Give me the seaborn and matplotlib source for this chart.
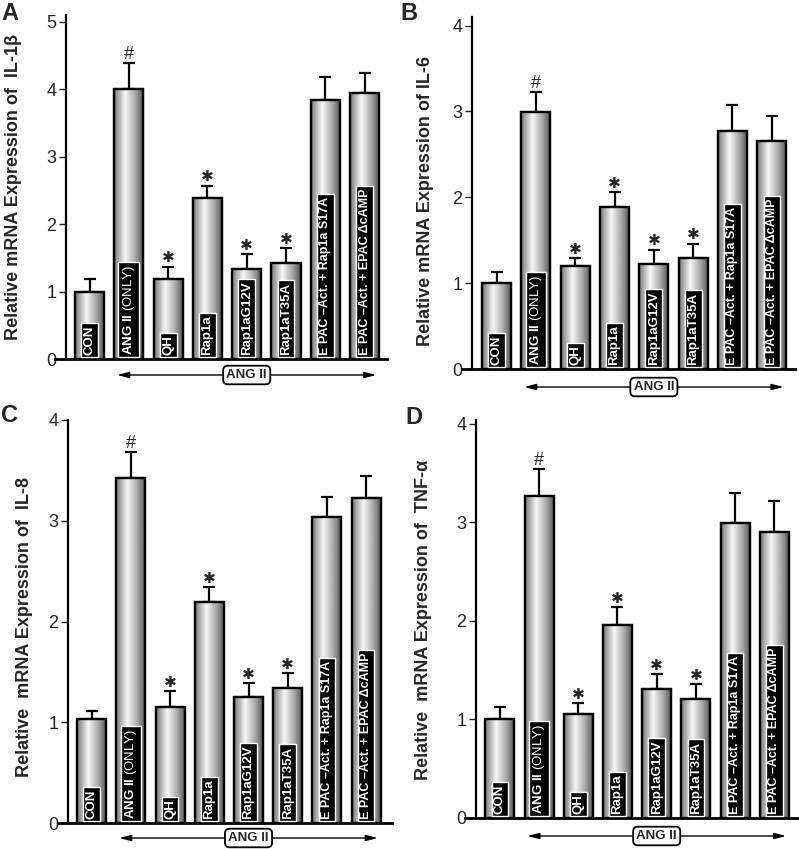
import numpy as np
import pandas as pd
import matplotlib
matplotlib.use("Agg")
import matplotlib.pyplot as plt
import seaborn as sns
from matplotlib.patches import Rectangle

# ---------------- data ----------------
categories = ["CON", "ANG II (ONLY)", "QH", "Rap1a", "Rap1aG12V", "Rap1aT35A",
              "E PAC \u2013Act. + Rap1a S17A", "E PAC \u2013Act. + EPAC \u0394cAMP"]
marks = ["", "#", "*", "*", "*", "*", "", ""]

il1b = [1.00, 4.01, 1.19, 2.38, 1.34, 1.42, 3.84, 3.94]
il1b_err = [0.18, 0.38, 0.18, 0.19, 0.22, 0.22, 0.34, 0.30]
il6 = [1.00, 2.99, 1.20, 1.89, 1.22, 1.29, 2.77, 2.66]
il6_err = [0.13, 0.24, 0.09, 0.17, 0.17, 0.17, 0.30, 0.29]
il8 = [1.03, 3.42, 1.15, 2.19, 1.25, 1.34, 3.04, 3.23]
il8_err = [0.08, 0.26, 0.16, 0.15, 0.14, 0.15, 0.20, 0.21]
tnf = [1.01, 3.27, 1.06, 1.96, 1.31, 1.21, 2.99, 2.90]
tnf_err = [0.12, 0.27, 0.11, 0.18, 0.15, 0.15, 0.31, 0.32]

panel_letters = ["A", "B", "C", "D"]
ylabels = ["Relative mRNA Expression of  IL-1\u03b2",
           "Relative mRNA Expression of IL-6",
           "Relative  mRNA Expression of  IL-8",
           "Relative  mRNA Expression of  TNF-\u03b1"]
yticks_list = [[0, 1, 2, 3, 4, 5], [0, 1, 2, 3, 4], [0, 1, 2, 3, 4], [0, 1, 2, 3, 4]]
group_label = "ANG II"

# ---------------- style ----------------
sns.set_style("white")
plt.rcParams["font.family"] = ["Liberation Sans", "DejaVu Sans"]
plt.rcParams["mathtext.fontset"] = "custom"
plt.rcParams["mathtext.rm"] = "Liberation Sans"
plt.rcParams["mathtext.bf"] = "Liberation Sans:bold"
plt.rcParams["mathtext.it"] = "Liberation Sans:italic"

W, H = 799, 849
fig = plt.figure(figsize=(W / 100, H / 100), dpi=100)

layouts = [
    dict(left=55, right=387, base=359, top=15, xlim=(-0.88, 7.57), ylim=(0, 5.1), spine=-0.6,
         ylab=(14, 187), arrow=375, letter=(1, 2)),
    dict(left=462, right=795, base=369, top=17, xlim=(-0.88, 7.59), ylim=(0, 4.1), spine=-0.62,
         ylab=(426, 201), arrow=387, letter=(400, 2)),
    dict(left=58, right=392, base=823, top=420, xlim=(-0.86, 7.66), ylim=(0, 4.0), spine=-0.6,
         ylab=(25, 627), arrow=838, letter=(1, 404)),
    dict(left=465, right=799, base=818, top=420, xlim=(-0.89, 7.63), ylim=(0, 4.04), spine=-0.61,
         ylab=(423, 620), arrow=836, letter=(405, 406)),
]
series = [(il1b, il1b_err), (il6, il6_err), (il8, il8_err), (tnf, tnf_err)]

gx = np.linspace(0, 1, 256)
gvals = np.interp(gx, [0.0, 0.06, 0.38, 0.75, 1.0], [0.38, 0.55, 0.97, 0.62, 0.30])
grad = gvals[np.newaxis, :]

for k in range(4):
    L = layouts[k]
    vals, errs = series[k]
    ax = fig.add_axes([L["left"] / W, 1 - L["base"] / H,
                       (L["right"] - L["left"]) / W, (L["base"] - L["top"]) / H])
    df = pd.DataFrame({"cat": categories, "val": vals})
    sns.barplot(data=df, x="cat", y="val", order=categories, color="0.7",
                edgecolor="black", linewidth=1.5, width=0.74, errorbar=None, ax=ax)

    for p in list(ax.patches):
        x0, y0, w, h = p.get_x(), p.get_y(), p.get_width(), p.get_height()
        im = ax.imshow(grad, extent=[x0, x0 + w, y0, y0 + h], aspect="auto",
                       cmap="gray", vmin=0, vmax=1, interpolation="bilinear", zorder=2.1)
        im.set_clip_path(p)
        ax.add_patch(Rectangle((x0, y0), w, h, fill=False, edgecolor="black",
                               linewidth=1.7, zorder=2.3))

    xs = np.arange(len(categories))
    ax.errorbar(xs, vals, yerr=[np.zeros(len(vals)), errs], fmt="none", ecolor="black",
                elinewidth=1.6, capsize=4, capthick=1.6, zorder=1.9)

    for i in range(len(categories)):
        if marks[i] == "*":
            ax.annotate("\u2731", xy=(xs[i], vals[i] + errs[i]), xytext=(0, 3),
                        textcoords="offset points", ha="center", va="baseline",
                        fontsize=11, family="DejaVu Sans", zorder=5)
        elif marks[i] == "#":
            ax.annotate("#", xy=(xs[i], vals[i] + errs[i]), xytext=(0, 3),
                        textcoords="offset points", ha="center", va="baseline",
                        fontsize=13, zorder=5)

    for i, lab in enumerate(categories):
        box = dict(boxstyle="square,pad=0.18", fc="black", ec="white", lw=1)
        fs = 9.0 if lab.startswith("E PAC") else 9.5
        if "(ONLY)" in lab:
            main, extra = lab.split(" (")
            shown = r"$\mathbf{" + main.replace(" ", r"\ ") + "}$ (" + extra
            ax.annotate(shown, xy=(xs[i], 0), xytext=(0, 3), textcoords="offset points",
                        rotation=90, ha="center", va="bottom", fontsize=fs,
                        color="white", bbox=box, zorder=4)
        else:
            ax.annotate(lab, xy=(xs[i], 0), xytext=(0, 3), textcoords="offset points",
                        rotation=90, ha="center", va="bottom", fontsize=fs,
                        weight="bold", color="white", bbox=box, zorder=4)

    ax.set_xlim(*L["xlim"])
    ax.set_ylim(*L["ylim"])
    ax.set_xticks([])
    ax.set_xlabel("")
    ax.set_yticks(yticks_list[k])
    ax.tick_params(axis="y", direction="out", length=5, width=1, labelsize=13,
                   left=True, pad=2)
    for s in ["top", "right"]:
        ax.spines[s].set_visible(False)
    ax.spines["left"].set_position(("data", L["spine"]))
    ax.spines["left"].set_linewidth(1.6)
    ax.spines["bottom"].set_linewidth(2.0)
    ax.spines["left"].set_color("black")
    ax.spines["bottom"].set_color("black")

    ax.set_ylabel(ylabels[k], fontsize=13, weight="bold")
    ax.yaxis.label.set_va("center")
    ax.yaxis.set_label_coords((L["ylab"][0] - L["left"]) / (L["right"] - L["left"]),
                              (L["base"] - L["ylab"][1]) / (L["base"] - L["top"]))

    ya = -(L["arrow"] - L["base"]) / (L["base"] - L["top"])
    trans = ax.get_xaxis_transform()
    ax.annotate("", xy=(7.3, ya), xytext=(0.7, ya), xycoords=trans, textcoords=trans,
                arrowprops=dict(arrowstyle="<|-|>,head_length=0.7,head_width=0.18",
                                color="black", lw=1.0, shrinkA=0, shrinkB=0),
                annotation_clip=False)
    ax.text(4.0, ya, group_label, transform=trans, ha="center", va="center",
            fontsize=9.5, weight="bold", clip_on=False, zorder=6,
            bbox=dict(boxstyle="round,pad=0.25,rounding_size=0.35", fc="white",
                      ec="black", lw=1.3))

    fig.text(L["letter"][0] / W, 1 - L["letter"][1] / H, panel_letters[k],
             ha="left", va="top", fontsize=17, weight="bold")

fig.savefig("out.png", dpi=100)
